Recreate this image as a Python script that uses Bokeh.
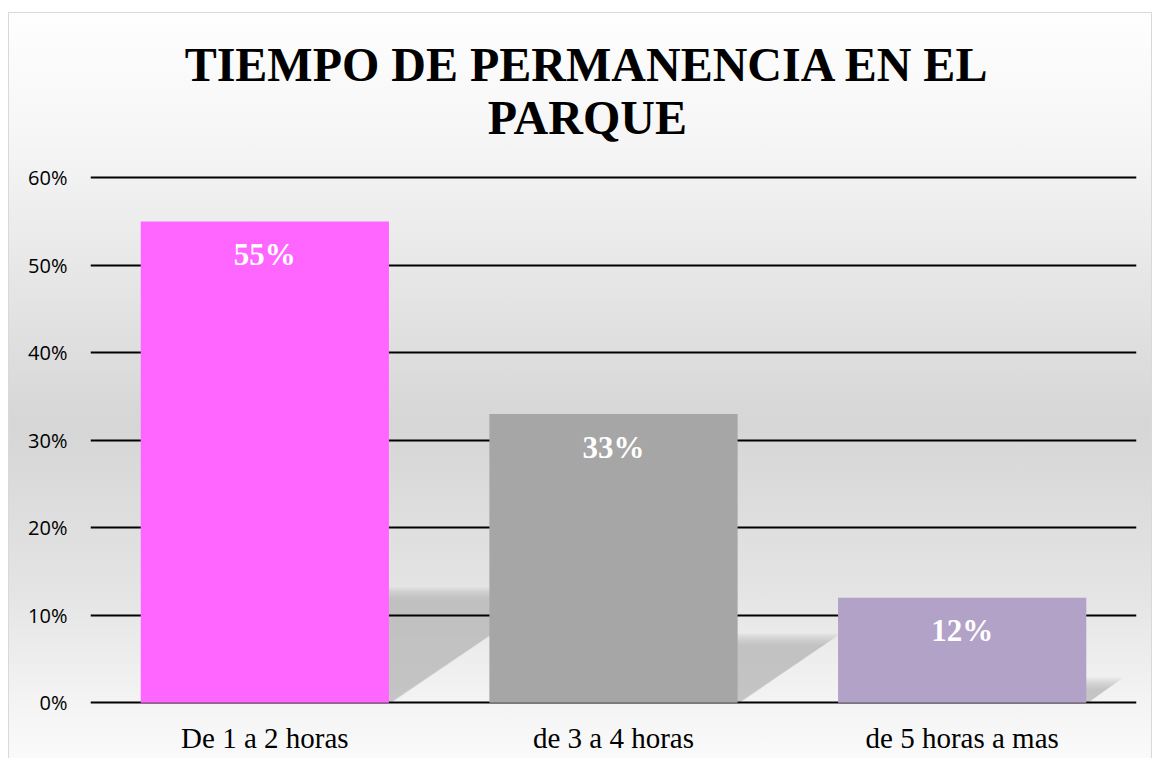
from bokeh.plotting import figure
from bokeh.models import (FactorRange, Range1d, PrintfTickFormatter, FixedTicker,
                          Label, ColumnDataSource, InlineStyleSheet)
from bokeh.core.properties import value
from bokeh.embed import file_html
from bokeh.resources import INLINE

# ---- data ----
categories = ["De 1 a 2 horas", "de 3 a 4 horas", "de 5 horas a mas"]
percentages = [55, 33, 12]
bar_colors = ["#FF66FF", "#A6A6A6", "#B3A2C7"]
label_texts = ["55%", "33%", "12%"]
y_ticks = [0, 10, 20, 30, 40, 50, 60]
title_line1 = "TIEMPO DE PERMANENCIA EN EL"
title_line2 = "PARQUE"

W, H = 1152, 758
PX_PER_UNIT = 8.75
FRAME_W, FRAME_H = 1046, 684   # frame extends up under the title area
Y_START = -0.2
Y_END = Y_START + FRAME_H / PX_PER_UNIT

css = InlineStyleSheet(css=""":host {
  background: linear-gradient(to bottom, #ffffff 0%, #f6f6f6 18%, #d6d6d6 56%, #e4e4e4 78%, #f4f4f4 93%, #fafafa 100%);
  box-shadow: inset 8px 12px 0 0 #ffffff, inset 9px 13px 0 0 #d9d9d9, inset -1px 0 0 0 #d9d9d9;
}""")

p = figure(x_range=FactorRange(*categories), y_range=Range1d(Y_START, Y_END),
           width=W, height=H, frame_width=FRAME_W, frame_height=FRAME_H,
           output_backend="svg", toolbar_location=None,
           min_border_left=90, min_border_right=16, min_border_top=20, min_border_bottom=54)
p.stylesheets = [css]
p.border_fill_alpha = 0
p.background_fill_alpha = 0
p.outline_line_color = None

# ---- perspective shadows behind bars (derived from the values) ----
half = 0.356
layers = [(0.15 * k, 0.10) for k in range(10)]
for cat, v in zip(categories, percentages):
    h = 0.24 * v
    for inset, alpha in layers:
        hh = max(h - inset, 0)
        s = 0.0374 * hh
        xs = [(cat, -half), (cat, half + 0.006 * inset), (cat, half + s), (cat, -half + s)]
        ys = [0, 0, hh, hh]
        r = p.patch(x=xs, y=ys, fill_color="#b0b0b0", fill_alpha=alpha, line_color=None)
        r.level = "image"

# ---- bars ----
src = ColumnDataSource(dict(cat=categories, val=percentages, color=bar_colors, lab=label_texts))
p.vbar(x="cat", top="val", width=0.712, fill_color="color", line_color=None, source=src)

p.text(x="cat", y="val", text="lab", source=src, y_offset=33,
       text_align="center", text_baseline="middle", text_color="white",
       text_font=value("Liberation Serif"), text_font_style="bold", text_font_size="31px")

# ---- axes / grid ----
p.yaxis.ticker = FixedTicker(ticks=y_ticks)
p.yaxis.formatter = PrintfTickFormatter(format="%d%%")
p.yaxis.axis_line_color = None
p.yaxis.major_tick_line_color = None
p.yaxis.minor_tick_line_color = None
p.yaxis.major_tick_out = 0
p.yaxis.major_label_standoff = 23
p.yaxis.major_label_text_font = "Open Sans"
p.yaxis.major_label_text_font_size = "20px"
p.yaxis.major_label_text_color = "#000000"

p.xaxis.axis_line_color = None
p.xaxis.major_tick_line_color = None
p.xaxis.major_tick_out = 0
p.xaxis.major_label_standoff = 17
p.xaxis.major_label_text_font = "Liberation Serif"
p.xaxis.major_label_text_font_size = "29px"
p.xaxis.major_label_text_color = "#000000"

p.xgrid.grid_line_color = None
p.ygrid.ticker = FixedTicker(ticks=y_ticks)
p.ygrid.grid_line_color = "#000000"
p.ygrid.grid_line_width = 2

# ---- title: two centred lines in the upper part of the plot area ----
title_x = 1.425          # horizontal centre (category axis units)
for txt, yb in [(title_line1, 73.0), (title_line2, 66.9)]:
    p.add_layout(Label(x=title_x, y=yb, text=txt, text_align="center",
                       text_baseline="alphabetic", text_font="Liberation Serif",
                       text_font_style="bold", text_font_size="48px",
                       text_color="#000000"))

open("out.html", "w").write(file_html(p, INLINE))
